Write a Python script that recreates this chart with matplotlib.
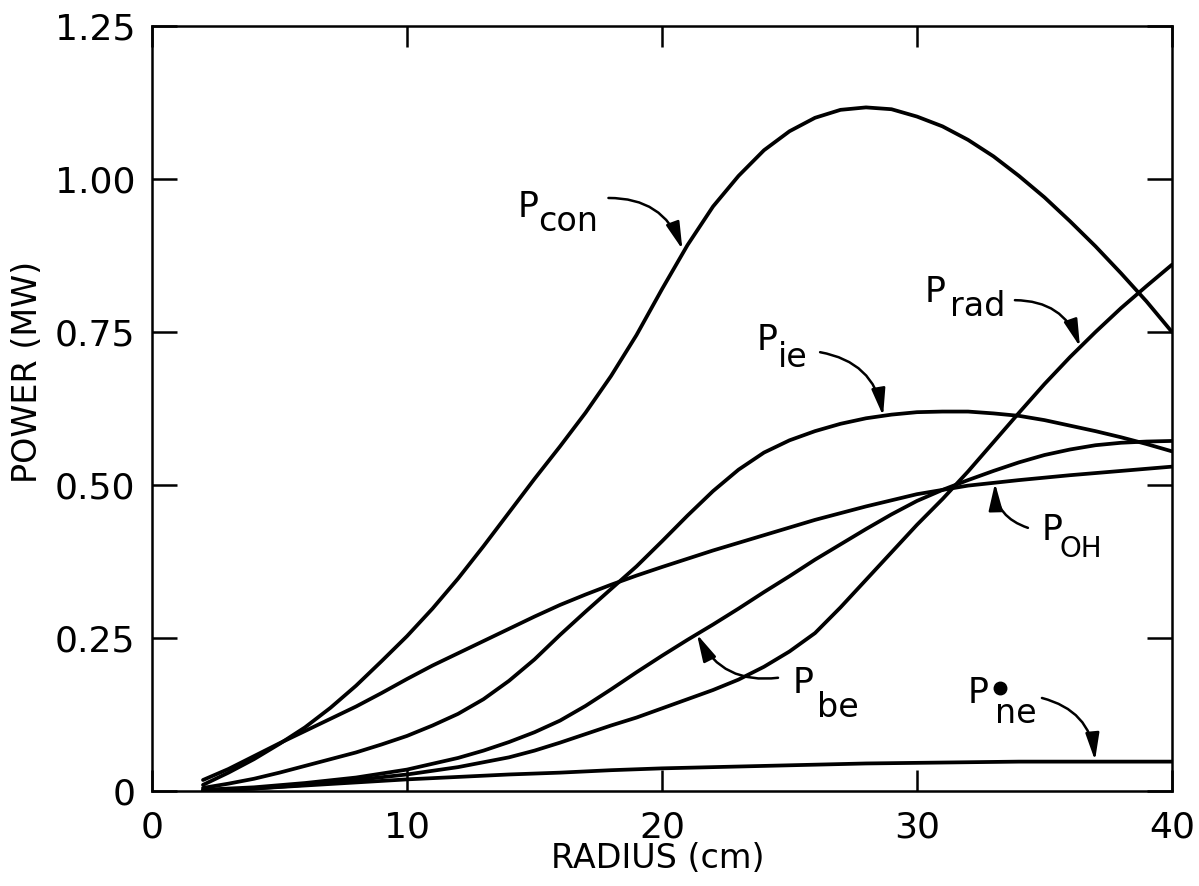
import matplotlib
matplotlib.use("Agg")
import matplotlib.pyplot as plt

plt.rcParams['font.family'] = ['DejaVu Sans']

# ---- data ----
x_con = [2, 3, 4, 5, 6, 7, 8, 9, 10, 11, 12, 13, 14, 15, 16, 17, 18, 19, 20, 21,
         22, 23, 24, 25, 26, 27, 28, 29, 30, 31, 32, 33, 34, 35, 36, 37, 38, 39, 40]
p_con = [0.01, 0.03, 0.052, 0.077, 0.104, 0.136, 0.172, 0.212, 0.253, 0.298, 0.347,
         0.40, 0.455, 0.51, 0.563, 0.618, 0.678, 0.745, 0.82, 0.892, 0.955, 1.005,
         1.047, 1.078, 1.10, 1.113, 1.117, 1.114, 1.102, 1.086, 1.064, 1.037, 1.005,
         0.97, 0.931, 0.89, 0.846, 0.80, 0.75]

x_ie = [2, 3, 4, 5, 6, 7, 8, 9, 10, 11, 12, 13, 14, 15, 16, 17, 18, 19, 20, 21, 22,
        23, 24, 25, 26, 27, 28, 29, 30, 31, 32, 33, 34, 35, 36, 37, 38, 39, 40]
p_ie = [0.005, 0.012, 0.02, 0.03, 0.041, 0.052, 0.063, 0.076, 0.09, 0.107, 0.126,
        0.15, 0.18, 0.215, 0.255, 0.293, 0.33, 0.367, 0.408, 0.45, 0.49, 0.525,
        0.553, 0.573, 0.588, 0.60, 0.609, 0.615, 0.619, 0.62, 0.62, 0.617, 0.613,
        0.606, 0.597, 0.588, 0.578, 0.567, 0.555]

x_oh = [2, 3, 4, 5, 6, 7, 8, 9, 10, 11, 12, 13, 14, 15, 16, 17, 18, 19, 20, 22, 24,
        26, 28, 30, 32, 34, 36, 38, 40]
p_oh = [0.018, 0.036, 0.057, 0.078, 0.098, 0.118, 0.138, 0.16, 0.183, 0.205, 0.225,
        0.245, 0.265, 0.285, 0.304, 0.321, 0.337, 0.352, 0.366, 0.393, 0.418, 0.443,
        0.465, 0.485, 0.499, 0.508, 0.516, 0.523, 0.53]

x_be = [2, 4, 6, 8, 10, 12, 13, 14, 15, 16, 17, 18, 19, 20, 21, 22, 23, 24, 25, 26,
        27, 28, 29, 30, 31, 32, 33, 34, 35, 36, 37, 38, 39, 40]
p_be = [0.002, 0.006, 0.013, 0.022, 0.035, 0.054, 0.066, 0.08, 0.096, 0.115, 0.139,
        0.166, 0.194, 0.221, 0.247, 0.272, 0.298, 0.325, 0.351, 0.378, 0.403, 0.428,
        0.452, 0.474, 0.492, 0.508, 0.523, 0.537, 0.549, 0.558, 0.565, 0.569, 0.571,
        0.572]

x_rad = [2, 4, 6, 8, 10, 12, 14, 15, 16, 17, 18, 19, 20, 21, 22, 23, 24, 25, 26, 27,
         28, 29, 30, 31, 32, 33, 34, 35, 36, 37, 38, 39, 40]
p_rad = [0.001, 0.004, 0.01, 0.018, 0.027, 0.039, 0.055, 0.066, 0.079, 0.093, 0.107,
         0.12, 0.135, 0.15, 0.165, 0.182, 0.203, 0.228, 0.258, 0.30, 0.345, 0.39,
         0.435, 0.477, 0.522, 0.57, 0.618, 0.665, 0.709, 0.75, 0.789, 0.825, 0.86]

x_ne = [2, 4, 6, 8, 10, 12, 14, 16, 18, 20, 22, 24, 26, 28, 30, 32, 34, 36, 38, 40]
p_ne = [0.0, 0.004, 0.009, 0.014, 0.019, 0.023, 0.027, 0.03, 0.034, 0.037, 0.039,
        0.041, 0.043, 0.045, 0.046, 0.047, 0.048, 0.048, 0.048, 0.048]

x_ticks = [0, 10, 20, 30, 40]
x_ticklabels = ['0', '10', '20', '30', '40']
y_ticks = [0, 0.25, 0.50, 0.75, 1.00, 1.25]
y_ticklabels = ['0', '0.25', '0.50', '0.75', '1.00', '1.25']

series = [(x_con, p_con), (x_ie, p_ie), (x_oh, p_oh), (x_be, p_be),
          (x_rad, p_rad), (x_ne, p_ne)]

# labels: (main text pos, subscript text, subscript pos, arrow tail, arrow head)
labels = [
    ((14.35, 0.954), 'con', (15.14, 0.930), (17.9, 0.969), (20.8, 0.885)),
    ((23.73, 0.737), 'ie', (24.55, 0.708), (26.2, 0.717), (28.67, 0.613)),
    ((30.31, 0.815), 'rad', (31.29, 0.791), (33.84, 0.802), (36.39, 0.726)),
    ((34.90, 0.426), 'OH', (35.60, 0.395), (34.35, 0.430), (33.06, 0.503)),
    ((25.14, 0.176), 'be', (26.08, 0.136), (24.55, 0.185), (21.37, 0.256)),
    ((32.00, 0.160), 'ne', (33.06, 0.127), (34.90, 0.152), (36.98, 0.050)),
]

fig = plt.figure(figsize=(11.99, 8.86), dpi=100)
ax = fig.add_axes([152 / 1199, 95 / 886, 1020 / 1199, 765 / 886])

for xs, ys in series:
    ax.plot(xs, ys, color='black', lw=2.7, solid_capstyle='round',
            solid_joinstyle='round')

ax.set_xlim(0, 40)
ax.set_ylim(0, 1.25)
ax.set_xticks(x_ticks)
ax.set_xticklabels(x_ticklabels)
ax.set_yticks(y_ticks)
ax.set_yticklabels(y_ticklabels)
ax.tick_params(axis='both', direction='in', top=True, right=True,
               labelsize=26, width=1.8, color='black')
ax.tick_params(axis='x', length=15, pad=14)
ax.tick_params(axis='y', length=18, pad=12)
for s in ax.spines.values():
    s.set_linewidth(1.8)

ax.set_xlabel('RADIUS (cm)', fontsize=24)
ax.xaxis.set_label_coords(0.496, -0.088)
ax.xaxis.label.set_va('center')
ax.set_ylabel('POWER (MW)', fontsize=24)
ax.yaxis.set_label_coords(-0.1216, 0.548)
ax.yaxis.label.set_va('center')

for (ppos, sub, spos, tail, head) in labels:
    ax.text(ppos[0], ppos[1], 'P', fontsize=25, ha='left', va='center')
    ax.text(spos[0], spos[1], sub, fontsize=24 if sub != 'OH' else 20,
            ha='left', va='center')
    ax.annotate('', xy=head, xytext=tail,
                arrowprops=dict(arrowstyle='-|>,head_length=1.1,head_width=0.28',
                                connectionstyle='arc3,rad=-0.35', lw=1.8,
                                color='black', mutation_scale=15,
                                shrinkA=0, shrinkB=0))

# dot above the 'ne' subscript
ax.plot([33.25], [0.168], marker='o', color='black', markersize=9)

fig.savefig('out.png', dpi=100)
